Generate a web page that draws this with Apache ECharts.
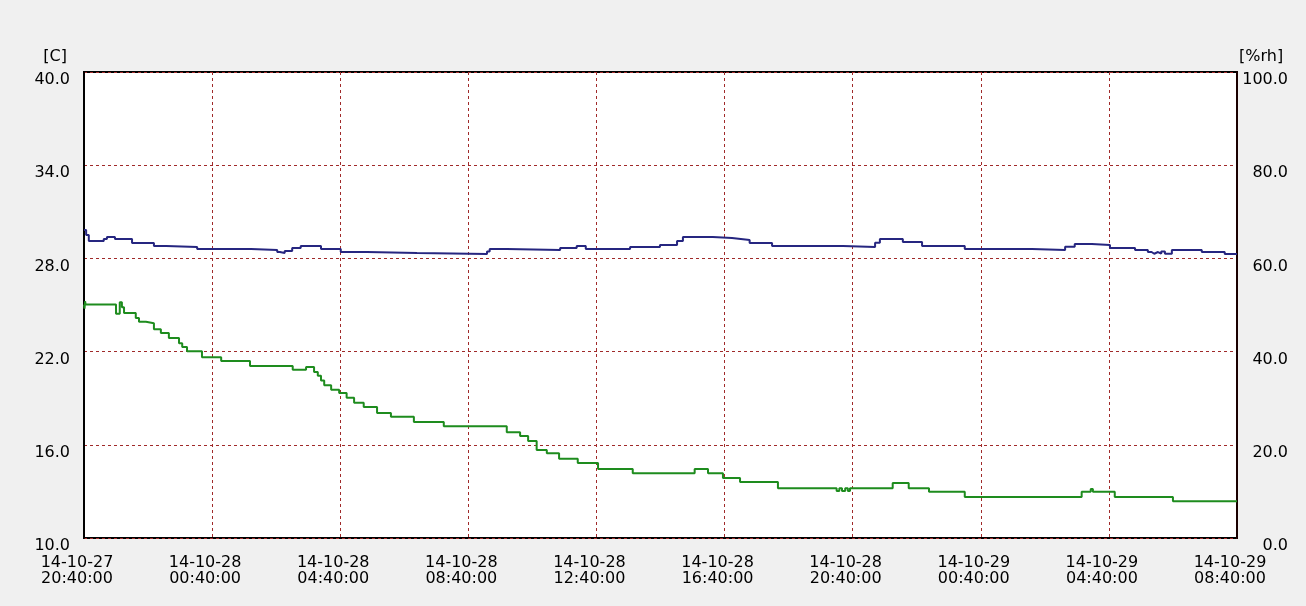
<!DOCTYPE html>
<html>
<head>
<meta charset="utf-8">
<script src="https://cdn.jsdelivr.net/npm/echarts@6/dist/echarts.min.js"></script>
<style>
html,body{margin:0;padding:0;background:#f0f0f0;}
#chart{width:1306px;height:606px;}
</style>
</head>
<body>
<div id="chart"></div>
<script>
// Tick labels for the time axis (every 240 minutes from 14-10-27 20:40:00)
const xTickLabels = [
  '14-10-27\n20:40:00','14-10-28\n00:40:00','14-10-28\n04:40:00','14-10-28\n08:40:00',
  '14-10-28\n12:40:00','14-10-28\n16:40:00','14-10-28\n20:40:00','14-10-29\n00:40:00',
  '14-10-29\n04:40:00','14-10-29\n08:40:00'
];
const leftAxisName = '[C]';
const rightAxisName = '[%rh]';

// Temperature series (minutes since start, °C) — blue, left axis
const tempMinutes = [0,4,9,37,43,58,90,131,154,212,313,362,367,376,390,406,444,481,530,624,755,760,792,892,923,940,1023,1079,1111,1122,1178,1214,1247,1289,1422,1482,1491,1534,1570,1650,1776,1838,1856,1888,1922,1969,1993,2000,2005,2012,2018,2025,2038,2094,2137,2160];
const tempValues  = [29.83,29.5,29.12,29.25,29.38,29.25,28.99,28.8,28.73,28.6,28.54,28.41,28.35,28.48,28.67,28.8,28.6,28.41,28.35,28.28,28.45,28.6,28.54,28.67,28.8,28.6,28.73,28.86,29.12,29.38,29.31,29.19,28.99,28.8,28.73,29.0,29.25,29.06,28.8,28.6,28.54,28.75,28.93,28.86,28.67,28.54,28.41,28.3,28.41,28.3,28.45,28.3,28.54,28.41,28.28,28.28];

// Humidity series (minutes since start, %rh) — green, right axis
const rhMinutes = [0,1,2,3,60,67,71,75,97,103,116,131,144,159,178,184,193,221,257,311,391,416,431,438,444,450,463,478,492,506,524,549,575,618,674,792,817,832,848,867,890,925,963,1028,1144,1169,1197,1229,1300,1410,1415,1420,1426,1431,1435,1515,1545,1583,1650,1869,1886,1890,1931,2040,2160];
const rhValues  = [50.1,49.2,50.8,50.1,48.1,50.6,49.5,48.3,47.2,46.4,46.1,44.8,44.0,42.9,41.8,41.0,40.1,38.8,38.0,36.9,36.1,36.7,35.6,34.8,33.8,32.8,31.8,31.1,30.1,29.0,28.1,26.8,26.0,24.9,24.0,22.7,21.9,20.8,18.9,18.2,17.0,16.1,14.8,13.9,14.8,13.9,12.9,12.0,10.7,10.1,10.7,10.1,10.7,10.1,10.7,11.8,10.7,9.9,8.8,9.9,10.5,9.9,8.8,7.9,7.9];

const pair = (xs, ys) => xs.map((x, i) => [x, ys[i]]);

const font = 'DejaVu Sans';
const gridLine = { show: true, lineStyle: { color: '#a02a2a', width: 1, type: [3, 3] } };

const chart = echarts.init(document.getElementById('chart'), null, { renderer: 'canvas' });
chart.setOption({
  backgroundColor: '#f0f0f0',
  animation: false,
  grid: {
    left: 84, right: 69, top: 72, bottom: 68,
    show: true, backgroundColor: '#ffffff', borderColor: '#000000', borderWidth: 2
  },
  xAxis: {
    type: 'value', min: 0, max: 2160, interval: 240,
    axisLine: { show: false }, axisTick: { show: false },
    splitLine: gridLine,
    axisLabel: {
      color: '#000', fontFamily: font, fontSize: 16, lineHeight: 16,
      margin: 17, padding: [0, 14, 0, 0],
      formatter: v => xTickLabels[Math.round(v / 240)] || ''
    }
  },
  yAxis: [
    {
      type: 'value', min: 10, max: 40, interval: 6, position: 'left',
      name: leftAxisName, nameLocation: 'end', nameGap: 7,
      nameTextStyle: { color: '#000', fontFamily: font, fontSize: 16, align: 'right', padding: [0, 17, 0, 0] },
      axisLine: { show: true, lineStyle: { color: '#000', width: 2 } },
      axisTick: { show: false },
      splitLine: gridLine,
      axisLabel: { color: '#000', fontFamily: font, fontSize: 16, margin: 14, verticalAlign: 'top',
        formatter: v => v.toFixed(1) }
    },
    {
      type: 'value', min: 0, max: 100, interval: 20, position: 'right',
      name: rightAxisName, nameLocation: 'end', nameGap: 7,
      nameTextStyle: { color: '#000', fontFamily: font, fontSize: 16, align: 'left', padding: [0, 0, 0, 2] },
      axisLine: { show: true, lineStyle: { color: '#1a0000', width: 2 } },
      axisTick: { show: false },
      splitLine: { show: false },
      axisLabel: { color: '#000', fontFamily: font, fontSize: 16, margin: 51, align: 'right', verticalAlign: 'top',
        formatter: v => v.toFixed(1) }
    }
  ],
  series: [
    {
      name: 'Temperature', type: 'line', yAxisIndex: 0, step: 'end',
      data: pair(tempMinutes, tempValues), showSymbol: false,
      lineStyle: { color: '#262680', width: 2 }, itemStyle: { color: '#262680' }
    },
    {
      name: 'Humidity', type: 'line', yAxisIndex: 1, step: 'end',
      data: pair(rhMinutes, rhValues), showSymbol: false,
      lineStyle: { color: '#1e8c1e', width: 2 }, itemStyle: { color: '#1e8c1e' }
    }
  ]
});
</script>
</body>
</html>
